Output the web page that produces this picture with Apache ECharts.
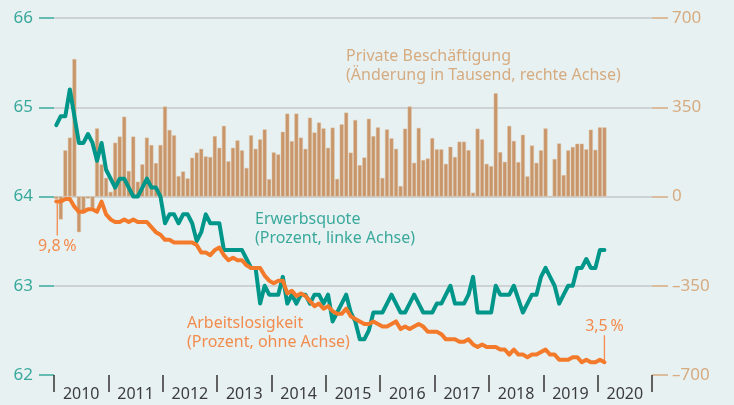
<!DOCTYPE html>
<html>
<head>
<meta charset="utf-8">
<script src="https://cdn.jsdelivr.net/npm/echarts@6/dist/echarts.min.js"></script>
<style>
  html, body { margin: 0; padding: 0; background: #e8f1f2; }
  #chart { width: 734px; height: 405px; }
</style>
</head>
<body>
<div id="chart"></div>
<script>
// Jahre auf der x-Achse (Monatswerte Jan 2010 - Feb 2020)
let years = ['2010', '2011', '2012', '2013', '2014', '2015', '2016', '2017', '2018', '2019', '2020']

let leftTicks = [62, 63, 64, 65, 66]
let rightTicks = [-700, -350, 0, 350, 700]

// Private Beschäftigung, Änderung in Tausend (rechte Achse)
let beschaeftigung = [
  -10, -90, 181, 231, 539, -140, -65, -8, -45, 267, 126, 73,
  18, 211, 235, 313, 100, 235, 58, 126, 231, 202, 131, 202,
  353, 261, 240, 80, 98, 71, 152, 172, 187, 157, 155, 237,
  191, 277, 138, 191, 220, 181, 112, 240, 187, 224, 263, 68,
  173, 165, 254, 325, 217, 325, 231, 187, 309, 251, 290, 267,
  191, 270, 69, 283, 329, 172, 300, 123, 153, 305, 237, 271,
  73, 263, 228, 187, 41, 266, 353, 132, 269, 143, 149, 229,
  185, 185, 128, 195, 155, 215, 215, 182, 15, 266, 224, 128,
  119, 405, 174, 136, 277, 218, 135, 242, 79, 200, 132, 181,
  267, 1, 147, 208, 84, 181, 194, 207, 207, 185, 262, 183,
  271, 271
]

// Erwerbsquote in Prozent (linke Achse)
let erwerbsquote = [
  64.8, 64.9, 64.9, 65.2, 64.9, 64.6, 64.6, 64.7, 64.6, 64.4, 64.6, 64.3,
  64.2, 64.1, 64.2, 64.2, 64.1, 64.0, 64.0, 64.1, 64.2, 64.1, 64.1, 64.0,
  63.7, 63.8, 63.8, 63.7, 63.8, 63.8, 63.7, 63.5, 63.6, 63.8, 63.7, 63.7,
  63.7, 63.4, 63.4, 63.4, 63.4, 63.4, 63.3, 63.2, 63.2, 62.8, 63.0, 62.9,
  62.9, 62.9, 63.1, 62.8, 62.9, 62.8, 62.9, 62.9, 62.8, 62.9, 62.9, 62.8,
  62.9, 62.6, 62.7, 62.8, 62.9, 62.7, 62.6, 62.4, 62.4, 62.5, 62.7, 62.7,
  62.7, 62.8, 62.9, 62.8, 62.7, 62.7, 62.8, 62.9, 62.8, 62.7, 62.7, 62.7,
  62.8, 62.8, 62.9, 63.0, 62.8, 62.8, 62.8, 62.9, 63.1, 62.7, 62.7, 62.7,
  62.7, 63.0, 62.9, 62.9, 62.9, 63.0, 62.85, 62.7, 62.8, 62.9, 62.9, 63.1,
  63.2, 63.1, 63.0, 62.8, 62.9, 63.0, 63.0, 63.2, 63.2, 63.3, 63.2, 63.2,
  63.4, 63.4
]

// Arbeitslosigkeit in Prozent (ohne Achse)
let arbeitslosigkeit = [
  9.8, 9.8, 9.9, 9.9, 9.6, 9.4, 9.4, 9.5, 9.5, 9.4, 9.8, 9.3,
  9.1, 9.0, 9.0, 9.1, 9.0, 9.1, 9.0, 9.0, 9.0, 8.8, 8.6, 8.5,
  8.3, 8.3, 8.2, 8.2, 8.2, 8.2, 8.2, 8.1, 7.8, 7.8, 7.7, 7.9,
  8.0, 7.7, 7.5, 7.6, 7.5, 7.5, 7.3, 7.2, 7.2, 7.2, 6.9, 6.7,
  6.6, 6.7, 6.7, 6.2, 6.3, 6.1, 6.2, 6.1, 5.9, 5.7, 5.8, 5.6,
  5.7, 5.5, 5.4, 5.4, 5.6, 5.3, 5.2, 5.1, 5.0, 5.0, 5.1, 5.0,
  4.9, 4.9, 5.0, 5.1, 4.8, 4.9, 4.8, 4.9, 5.0, 4.9, 4.7, 4.7,
  4.7, 4.6, 4.4, 4.4, 4.4, 4.3, 4.3, 4.4, 4.2, 4.1, 4.2, 4.1,
  4.1, 4.1, 4.0, 4.0, 3.8, 4.0, 3.8, 3.8, 3.7, 3.8, 3.8, 3.9,
  4.0, 3.8, 3.8, 3.6, 3.6, 3.6, 3.7, 3.7, 3.5, 3.6, 3.5, 3.5,
  3.6, 3.5
]

// Monatskategorien aus den Jahren
let months = []
for (let i = 0; i < years.length; i++) {
  for (let m = 1; m <= 12; m++) {
    months.push(years[i] + '-' + (m < 10 ? '0' + m : m))
  }
}

const FONT = '"Noto Sans", sans-serif'
const TEAL = '#00968a'
const TEAL_TEXT = '#3aa99c'
const ORANGE = '#f47a2b'
const ORANGE_TEXT = '#f28c4e'
const TAN = '#c8966a'
const TAN_TEXT = '#d6ab80'
const GRID = '#c5c8ca'

let chart = echarts.init(document.getElementById('chart'))

let option = {
  animation: false,
  backgroundColor: '#e8f1f2',
  textStyle: { fontFamily: FONT },
  grid: { left: 54, right: 82, top: 18, bottom: 30 },
  xAxis: [
    {
      type: 'category',
      data: months,
      show: false,
      boundaryGap: true
    },
    {
      type: 'category',
      data: years,
      position: 'bottom',
      boundaryGap: true,
      axisLine: { show: false },
      axisTick: { show: true, interval: 0, length: 17, lineStyle: { color: '#333', width: 1.5 } },
      axisLabel: { interval: 0, color: '#3c3c3c', fontSize: 16, margin: 11 },
      splitLine: { show: false }
    }
  ],
  yAxis: [
    {
      type: 'value',
      position: 'left',
      min: leftTicks[0],
      max: leftTicks[leftTicks.length - 1],
      interval: 1,
      axisLine: { show: false },
      axisTick: { show: true, length: 15, lineStyle: { color: TEAL_TEXT, width: 1.5 } },
      axisLabel: { color: TEAL_TEXT, fontSize: 17, margin: 21 },
      splitLine: {
        show: true,
        lineStyle: { color: ['rgba(0,0,0,0)', GRID, GRID, GRID, GRID], width: 1.5 }
      }
    },
    {
      type: 'value',
      position: 'right',
      min: rightTicks[0],
      max: rightTicks[rightTicks.length - 1],
      interval: 350,
      axisLine: { show: false },
      axisTick: { show: true, length: 16, lineStyle: { color: TAN_TEXT, width: 1.5 } },
      axisLabel: {
        color: TAN_TEXT,
        fontSize: 17,
        margin: 20,
        formatter: function (v) { return String(v).replace('-', '\u2013') }
      },
      splitLine: { show: false }
    },
    {
      // Arbeitslosigkeit: ohne Achse, 10 % auf Höhe 64, 3 % auf Höhe 62
      type: 'value',
      show: false,
      min: 3,
      max: 17
    }
  ],
  series: [
    {
      name: 'Private Beschäftigung',
      type: 'bar',
      xAxisIndex: 0,
      yAxisIndex: 1,
      data: beschaeftigung,
      barCategoryGap: '12%',
      itemStyle: { color: TAN, borderColor: '#dcc1a2', borderWidth: 0.5 },
      z: 1
    },
    {
      name: 'Erwerbsquote',
      type: 'line',
      xAxisIndex: 0,
      yAxisIndex: 0,
      data: erwerbsquote,
      symbol: 'none',
      lineStyle: { color: TEAL, width: 4, cap: 'round', join: 'round' },
      z: 3
    },
    {
      name: 'Arbeitslosigkeit',
      type: 'line',
      xAxisIndex: 0,
      yAxisIndex: 2,
      data: arbeitslosigkeit,
      symbol: 'none',
      lineStyle: { color: ORANGE, width: 4, cap: 'round', join: 'round' },
      z: 4
    }
  ],
  graphic: [
    {
      id: 'txt_besch',
      type: 'text',
      left: 346,
      top: 47,
      style: {
        text: 'Private Beschäftigung\n(Änderung in Tausend, rechte Achse)',
        fill: TAN_TEXT,
        font: '16px ' + FONT,
        lineHeight: 19
      }
    },
    {
      id: 'txt_erwerb',
      type: 'text',
      left: 255,
      top: 210,
      style: {
        text: 'Erwerbsquote\n(Prozent, linke Achse)',
        fill: TEAL_TEXT,
        font: '16px ' + FONT,
        lineHeight: 19
      }
    },
    {
      id: 'txt_arbeitslos',
      type: 'text',
      left: 187,
      top: 314,
      style: {
        text: 'Arbeitslosigkeit\n(Prozent, ohne Achse)',
        fill: ORANGE_TEXT,
        font: '16px ' + FONT,
        lineHeight: 19
      }
    }
  ]
}

chart.setOption(option)

// Anfangs- und Endwert der Arbeitslosigkeit beschriften
let last = arbeitslosigkeit.length - 1
let p0 = chart.convertToPixel({ xAxisIndex: 0, yAxisIndex: 2 }, [0, arbeitslosigkeit[0]])
let p1 = chart.convertToPixel({ xAxisIndex: 0, yAxisIndex: 2 }, [last, arbeitslosigkeit[last]])

function fmt(v) {
  return v.toFixed(1).replace('.', ',') + '\u202f%'
}

chart.setOption({
  graphic: [
    {
      id: 'lead0', type: 'line', silent: true,
      shape: { x1: p0[0] + 1, y1: p0[1] + 2, x2: p0[0] + 1, y2: p0[1] + 34 },
      style: { stroke: ORANGE_TEXT, lineWidth: 1.3 }
    },
    {
      id: 'lab0', type: 'text', silent: true,
      x: p0[0] + 1, y: p0[1] + 45,
      style: { text: fmt(arbeitslosigkeit[0]), fill: ORANGE_TEXT, font: '16px ' + FONT, align: 'center', verticalAlign: 'middle' }
    },
    {
      id: 'lead1', type: 'line', silent: true,
      shape: { x1: p1[0], y1: p1[1] - 2, x2: p1[0], y2: p1[1] - 27 },
      style: { stroke: ORANGE_TEXT, lineWidth: 1.3 }
    },
    {
      id: 'lab1', type: 'text', silent: true,
      x: p1[0], y: p1[1] - 36,
      style: { text: fmt(arbeitslosigkeit[last]), fill: ORANGE_TEXT, font: '16px ' + FONT, align: 'center', verticalAlign: 'middle' }
    }
  ]
})
</script>
</body>
</html>
